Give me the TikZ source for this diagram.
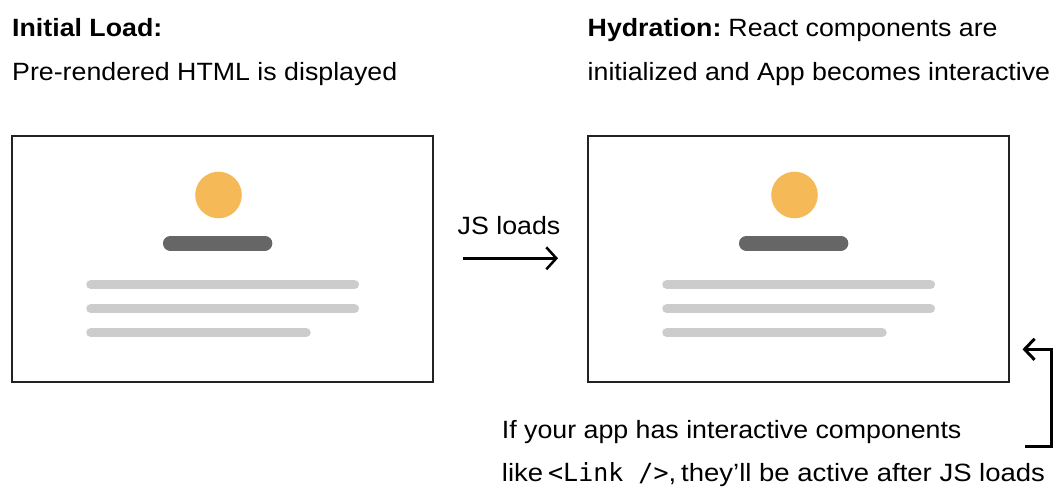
\documentclass[tikz,border=0pt]{standalone}
\usepackage{fontspec}
\setmainfont{Liberation Sans}[FakeStretch=1.07]
\setmonofont{DejaVu Sans Mono}
\usetikzlibrary{arrows.meta}
\definecolor{sunny}{HTML}{F6B957}
\definecolor{headbar}{HTML}{666666}
\definecolor{textbar}{HTML}{CCCCCC}
\definecolor{frame}{HTML}{222222}
\tikzset{
  label text/.style={anchor=base west, inner sep=0pt, font=\fontsize{25}{30}\selectfont},
  screen/.style={draw=frame, line width=1.5pt, minimum width=421pt, minimum height=246pt, inner sep=0pt},
  avatar/.style={circle, fill=sunny, minimum size=46.6pt, inner sep=0pt},
  title bar/.style={draw=headbar, line width=14.7pt, line cap=round},
  text bar/.style={draw=textbar, line width=9.5pt, line cap=round},
  flow/.style={line width=2.5pt, -{Straight Barb[length=10pt,width=22pt]}}
}
\begin{document}
\begin{tikzpicture}[x=1pt,y=-1pt]
\useasboundingbox (0,0) rectangle (1060,489);

% headings
\node[label text] (t1a) at (12,36.7) {\textbf{Initial Load:}};
\node[label text] (t1b) at (12,80.3) {Pre-rendered HTML is displayed};
\node[label text] (t2a) at (587.5,36.7) {\textbf{Hydration:}\hspace{7pt}React components are};
\node[label text] (t2b) at (587.5,80.3) {initialized and App becomes interactive};

% the two page mock-ups
\foreach \name/\dx in {pageA/0, pageB/576} {
  \begin{scope}[xshift=\dx pt]
    \node[screen] (\name) at (222.7,258.8) {};
    \node[avatar] (\name-avatar) at (218.5,195) {};
    \draw[title bar] (170.3,243.3) -- (265,243.3);
    \draw[text bar] (91,284.5) -- (354.3,284.5);
    \draw[text bar] (91,308.7) -- (354.3,308.7);
    \draw[text bar] (91,332.7) -- (306,332.7);
  \end{scope}
}

% transition arrow
\coordinate (jsStart) at (463.3,258.3);
\coordinate (jsEnd) at (558,258.3);
\draw[flow] (jsStart) -- (jsEnd);
\node[label text, anchor=base] (jslabel) at (509,234) {JS loads};

% note with bracket arrow
\node[label text] (note1) at (501.7,438.3) {If your app has interactive components};
\node[label text] (note2) at (501.7,481.7) {\addfontfeature{FakeStretch=1.1}like\hspace{5pt}\texttt{<Link~/>},\hspace{5pt}they’ll be active after JS loads};
\coordinate (brStart) at (1025,446.7);
\coordinate (brCorner1) at (1051,446.7);
\coordinate (brCorner2) at (1051,349.3);
\coordinate (brEnd) at (1022.5,349.3);
\draw[line width=3pt, -{Straight Barb[length=10pt,width=21pt]}] (brStart) -- (brCorner1) -- (brCorner2) -- (brEnd);
\end{tikzpicture}
\end{document}
